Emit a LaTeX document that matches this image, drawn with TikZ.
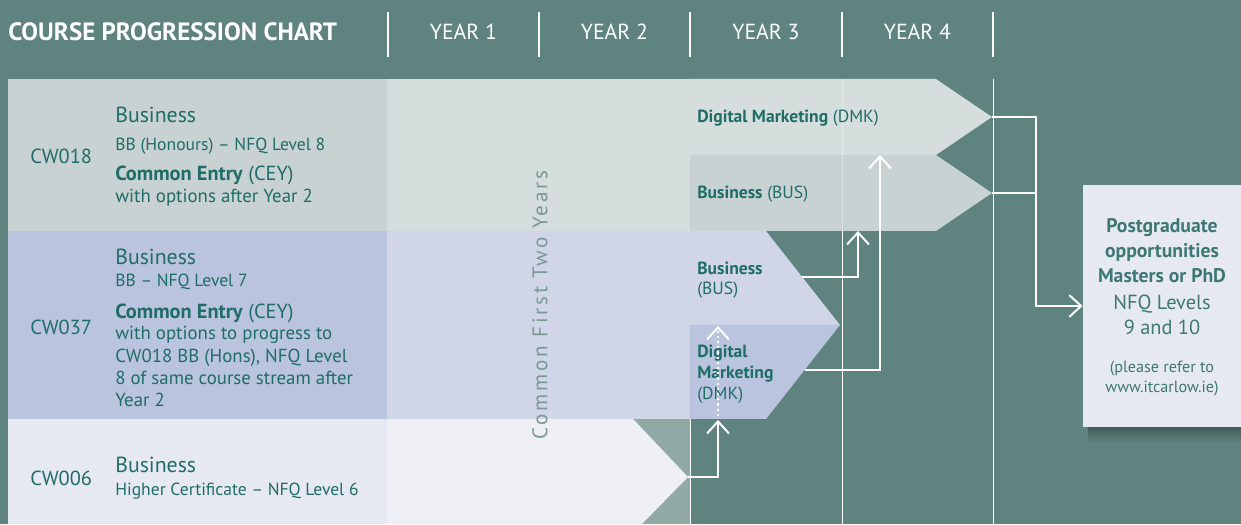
\documentclass[tikz,border=0pt]{standalone}
\usepackage{fontspec}
\setmainfont{PT Sans}
\usepackage{xcolor}
\usetikzlibrary{arrows.meta}
\definecolor{fondo}{HTML}{5F837E}
\definecolor{filaA}{HTML}{C8D2D2}
\definecolor{filaB}{HTML}{D5DEDC}
\definecolor{filaC}{HTML}{BAC4DF}
\definecolor{filaD}{HTML}{D0D6E8}
\definecolor{filaE}{HTML}{E6E9F2}
\definecolor{filaF}{HTML}{EEF0F5}
\definecolor{gris}{HTML}{92AAA5}
\definecolor{tinta}{HTML}{1F6D66}
\definecolor{tintapg}{HTML}{3E7873}
\definecolor{vertical}{HTML}{7A9995}

\begin{document}
\begin{tikzpicture}[x=0.025cm, y=-0.025cm,
    year/.style={text=white, font=\fontsize{15.5}{18}\selectfont, inner sep=0},
    code/.style={text=tinta, font=\fontsize{14.5}{17}\selectfont, anchor=west, inner sep=0},
    big/.style={text=tinta, font=\fontsize{15.5}{18}\selectfont, anchor=base west, inner sep=0},
    sub/.style={text=tinta, font=\fontsize{12.5}{15}\selectfont, anchor=base west, inner sep=0},
    body/.style={text=tinta, font=\fontsize{13.4}{16}\selectfont, anchor=base west, inner sep=0},
    entry/.style={text=tinta, font=\fontsize{14.5}{17}\selectfont, anchor=base west, inner sep=0},
    opt/.style={text=tinta, font=\fontsize{12.5}{15}\selectfont, anchor=base west, inner sep=0},
    pgtext/.style={text=tintapg, anchor=base, inner sep=0},
    conn/.style={draw=white, line width=1.4pt, -{Straight Barb[length=8.5pt, width=15.5pt]}}]
        % Fondo
        \fill[fondo] (0,0) rectangle (1241,524);

        % Cabecera
        \node[anchor=west, text=white, font=\bfseries\fontsize{17.8}{21}\selectfont, inner sep=0] (title) at (8,32) {COURSE PROGRESSION CHART};
        \foreach \x in {388,539,690,842,993}
            \draw[white, line width=0.8pt] (\x,12) -- (\x,57);
        \foreach \n/\x in {1/463.5,2/614.5,3/766,4/917.5}
            \node[year] (year\n) at (\x,32) {YEAR \n};

        % Lineas de los cursos
        \foreach \x in {690,842,993}
            \draw[white, line width=0.7pt] (\x,79) -- (\x,524);

        % CW018
        \fill[filaA] (8,79) rectangle (387,231);
        \fill[filaB] (387,79) rectangle (690,231);
        \fill[filaB] (690,79) -- (936,79) -- (992,117) -- (936,155) -- (690,155) -- cycle;
        \fill[filaA] (690,155) -- (936,155) -- (992,193) -- (936,231) -- (690,231) -- cycle;
        \draw[white, opacity=0.35, line width=0.7pt] (842,79) -- (842,231);

        % CW037
        \fill[filaC] (8,231) rectangle (387,419);
        \fill[filaD] (387,231) rectangle (690,419);
        \fill[filaD] (690,231) -- (766,231) -- (840,325) -- (690,325) -- cycle;
        \fill[filaC] (690,325) -- (840,325) -- (766,419) -- (690,419) -- cycle;

        % CW006
        \fill[filaE] (8,419) rectangle (387,524);
        \fill[gris] (633,419) rectangle (690,524);
        \fill[filaF] (387,419) -- (633,419) -- (688,477) -- (642,524) -- (387,524) -- cycle;

        % Textos CW018
        \node[code] (cw018) at (30,156) {CW018};
        \node[big] (b018) at (115,123) {Business};
        \node[sub] (l018) at (115,151) {BB (Honours) -- NFQ Level 8};
        \node[entry] (ce018) at (115,181) {\textbf{Common Entry} (CEY)};
        \node[body] (w018) at (115,203) {with options after Year 2};

        % Textos CW037
        \node[code] (cw037) at (30,327) {CW037};
        \node[big] (b037) at (115,265) {Business};
        \node[sub] (l037) at (115,287) {BB -- NFQ Level 7};
        \node[entry] (ce037) at (115,319) {\textbf{Common Entry} (CEY)};
        \node[body] (w037a) at (115,340) {with options to progress to};
        \node[body] (w037b) at (115,363) {CW018 BB (Hons), NFQ Level};
        \node[body] (w037c) at (115,385) {8 of same course stream after};
        \node[body] (w037d) at (115,407) {Year 2};

        % Textos CW006
        \node[code] (cw006) at (30,478) {CW006};
        \node[big] (b006) at (115,473) {Business};
        \node[sub] (l006) at (115,496) {Higher Certificate -- NFQ Level 6};

        % Dos primeros anos
        \node[rotate=90, text=vertical, inner sep=0, font=\fontsize{15}{18}\selectfont\addfontfeatures{LetterSpace=13}] (comun) at (540,305) {Common First Two Years};

        % Opciones
        \node[opt] (dmk3) at (697,123) {\textbf{Digital Marketing} (DMK)};
        \node[opt] (bus3) at (697,199) {\textbf{Business} (BUS)};
        \node[opt] (bus2) at (697,275) {\textbf{Business}};
        \node[opt] (bus2b) at (697,295) {(BUS)};
        \node[opt] (dmk2) at (697,358) {\textbf{Digital}};
        \node[opt] (dmk2b) at (697,379) {\textbf{Marketing}};
        \node[opt] (dmk2c) at (697,400) {(DMK)};

        % Posgrado
        \shade[top color=fondo!70!black, bottom color=fondo] (1088,427) rectangle (1241,442);
        \node[fill=filaE, minimum width=3.95cm, minimum height=6.05cm, inner sep=0] (pg) at (1162,306) {};
        \foreach \t/\y [count=\i] in {Postgraduate/233, opportunities/258, Masters or PhD/283}
            \node[pgtext, font=\bfseries\fontsize{14}{17}\selectfont] (pgt\i) at (1162,\y) {\t};
        \node[pgtext, font=\fontsize{14.5}{17}\selectfont] (nfq1) at (1162,310) {NFQ Levels};
        \node[pgtext, font=\fontsize{14.5}{17}\selectfont] (nfq2) at (1162,335) {9 and 10};
        \node[pgtext, font=\fontsize{11.5}{14}\selectfont] (ref1) at (1162,373) {(please refer to};
        \node[pgtext, font=\fontsize{11.5}{14}\selectfont] (ref2) at (1162,393) {www.itcarlow.ie)};

        % Flechas
        \coordinate (dmk3tip) at (992,117);
        \coordinate (bus3tip) at (992,193);
        \coordinate (jtop) at (1036,117);
        \coordinate (jbus) at (1036,193);
        \draw[conn] (dmk3tip) -- (jtop) |- (pg.west);
        \draw[white, line width=1.4pt] (bus3tip) -- (jbus);

        \coordinate (bus2out) at (802,277);
        \coordinate (bus3in) at (858,231);
        \draw[conn] (bus2out) -| (bus3in);

        \coordinate (dmk2out) at (805,370);
        \coordinate (dmk3in) at (880,155);
        \draw[conn] (dmk2out) -| (dmk3in);

        \coordinate (hctip) at (688,477);
        \coordinate (dmk2in) at (718,420);
        \coordinate (dmk2dot) at (718,416);
        \coordinate (dmk2up) at (718,326);
        \draw[conn] (hctip) -| (dmk2in);
        \draw[conn, dash pattern=on 1.5pt off 2.2pt] (dmk2dot) -- (dmk2up);
    \end{tikzpicture}
\end{document}
